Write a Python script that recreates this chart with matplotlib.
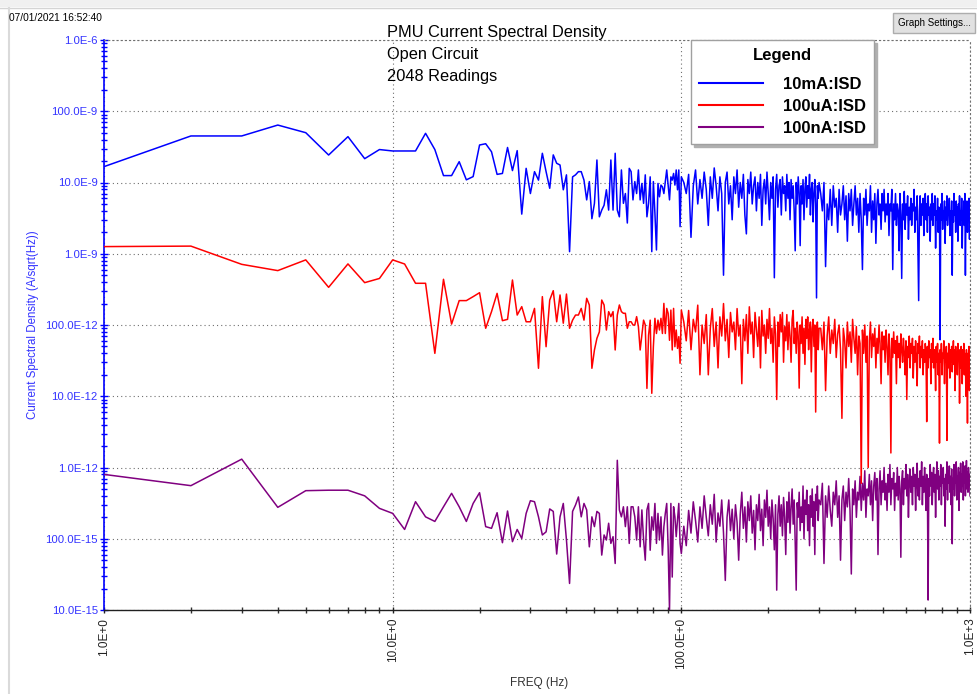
import numpy as np
import matplotlib
matplotlib.use('Agg')
import matplotlib.pyplot as plt
from matplotlib.ticker import FixedLocator, FixedFormatter, LogLocator, NullFormatter
from matplotlib.patches import Rectangle
from matplotlib.lines import Line2D

plt.rcParams['font.family'] = ['Liberation Sans', 'DejaVu Sans']
plt.rcParams['lines.scale_dashes'] = False

# ---------------- data ----------------
# frequency bins (Hz): every bin up to 100 Hz, thinned above
freq_hz = np.array(list(range(1, 101)) + list(range(102, 301, 2)) + list(range(304, 1001, 4)), dtype=float)

# 10mA range current spectral density, nA/sqrt(Hz)
isd_10mA_nA = [
    16.7, 45, 45, 64, 50, 24.3, 44, 21.6, 29, 27.7,
    27.7, 27.7, 49, 29, 12.5, 12.5, 19.6, 10.9, 12.1, 33.6,
    35, 27, 13, 13.4, 31, 14.7, 28, 3.6, 15.8, 7,
    14.2, 10.8, 25.7, 14.2, 8.3, 24.4, 18.6, 17.6, 7.9, 12.8,
    1.07, 12, 12.8, 14.2, 14.2, 10.8, 5.7, 10.3, 3.1, 5.1,
    20.7, 3.3, 4.1, 4.8, 7.9, 4.1, 20.7, 4.1, 25.7, 4.1,
    3.3, 15, 5.1, 7, 2.7, 15.8, 14.2, 5.7, 10.3, 7,
    15, 5.7, 9.7, 5.1, 12.8, 3.3, 5.1, 12, 1.07, 10.3,
    3.7, 1.13, 9.7, 6.3, 9.2, 8.7, 7, 10.3, 15, 9.2,
    5.7, 12, 10.8, 13.4, 9.2, 15, 7.9, 15, 2.4, 12,
    # 102..300 Hz
    10, 7, 13, 1.7, 9, 15, 5, 11, 6, 14,
    8, 2.5, 12, 6, 16, 9, 4, 12, 7, 0.5,
    10, 14, 5, 9, 3, 12, 7, 15, 4.5, 10,
    6, 13, 3.5, 1.9, 11, 7, 14, 5, 9, 12,
    4, 10, 6, 13, 2.5, 8, 11, 5, 14, 7,
    3, 10, 6, 12, 0.46, 8, 13, 4.5, 9, 11,
    3.5, 12, 7, 9, 4, 13, 6, 10, 3, 11,
    6, 9, 4, 1.1, 10, 5, 12, 7, 1.3, 9,
    5, 11, 3, 8, 12, 4.5, 9, 6, 13, 3.5,
    8, 10, 2.8, 7, 11, 5, 0.24, 9, 6, 10,
    # 304..1000 Hz
    7, 4, 10, 0.66, 5, 3, 8, 2.5, 9, 4.5,
    6, 2, 8, 3.5, 5, 9, 3, 6.5, 1.5, 7,
    4, 8, 2.5, 5, 9, 3.5, 6, 2, 7, 3,
    0.6, 6, 3.5, 8, 2.5, 5, 4, 9, 2, 5.5,
    3, 7, 1.4, 5, 8, 3.5, 5, 2.2, 7, 4,
    8, 2.8, 5, 3.5, 7, 1.8, 5, 4, 8, 0.6,
    5, 3, 7, 2.5, 5, 4, 1.1, 7, 3.5, 0.45,
    5, 3, 7.5, 2.2, 5, 3.5, 6.5, 1.6, 4.5, 3,
    6, 2.5, 5, 4, 8, 2, 4.5, 3, 6.5, 1.3,
    0.22, 4, 6.5, 2.5, 5, 3.5, 6, 1.8, 4, 7,
    3, 5, 2, 6.5, 3.5, 4.5, 1.5, 5, 3, 7,
    2.5, 5, 3.5, 6.5, 1.2, 4, 3, 6, 2, 4.5,
    3.5, 0.062, 5, 3, 7, 2.2, 4, 3.5, 5.5, 1.4,
    4.5, 3, 6.5, 2.5, 4, 3.5, 6, 1.8, 4, 3,
    5.5, 0.5, 4, 2.8, 7, 3.5, 4.5, 2, 5.5, 3,
    4.5, 1.5, 5, 3.5, 6.5, 2.5, 4, 3, 6, 1.2,
    4, 3, 5.5, 2.5, 7, 0.5, 4, 3, 5.5, 2,
    4.5, 3, 6, 1.6, 4,
]

# 100uA range, pA/sqrt(Hz)
isd_100uA_pA = [
    1260, 1280, 710, 580, 820, 338, 720, 393, 450, 820,
    718, 385, 385, 40, 438, 103, 220, 220, 250, 284,
    90, 154, 278, 115, 120, 428, 138, 181, 111, 111,
    171, 24.7, 250, 49.6, 224, 303, 111, 264, 106, 272,
    90, 117, 138, 138, 171, 117, 237, 191, 24.7, 44.6,
    65, 80, 224, 191, 85, 154, 131, 154, 44.6, 138,
    191, 154, 146, 146, 90, 111, 111, 100, 100, 131,
    95, 44.6, 72, 117, 100, 12.9, 72, 117, 11, 49.6,
    124, 76, 117, 85, 124, 76, 201, 76, 171, 146,
    61, 162, 44.6, 171, 49.6, 85, 47, 68.6, 29, 162,
    # 102..300 Hz
    110, 60, 160, 45, 120, 80, 190, 20, 100, 55,
    140, 20, 90, 170, 50, 110, 25, 130, 70, 200,
    60, 120, 35, 150, 80, 110, 45, 170, 70, 100,
    15, 120, 60, 140, 40, 180, 75, 110, 35, 150,
    85, 50, 130, 25, 160, 70, 100, 40, 120, 65,
    170, 55, 90, 30, 130, 75, 9, 110, 50, 140,
    80, 150, 30, 95, 60, 140, 45, 110, 70, 30,
    120, 160, 55, 90, 40, 110, 70, 13, 100, 55,
    130, 40, 90, 28, 120, 65, 130, 45, 85, 110,
    22, 90, 120, 50, 100, 6, 80, 110, 45, 90,
    # 304..1000 Hz
    90, 45, 110, 12, 70, 130, 40, 85, 55, 120,
    35, 75, 100, 45, 4.9, 90, 60, 25, 110, 50,
    80, 30, 120, 65, 40, 95, 20, 70, 55, 0.6,
    85, 40, 100, 30, 70, 1, 60, 110, 35, 75,
    50, 90, 25, 65, 40, 100, 55, 15, 80, 45,
    70, 30, 85, 50, 20, 75, 45, 1.6, 65, 35,
    80, 40, 60, 15, 70, 35, 55, 25, 75, 45,
    30, 65, 40, 20, 60, 9, 50, 35, 70, 25,
    55, 40, 65, 18, 50, 30, 60, 35, 14, 55,
    40, 70, 25, 50, 35, 60, 20, 45, 30, 55,
    40, 4.4, 50, 25, 60, 35, 45, 15, 55, 30,
    65, 25, 45, 35, 12, 50, 30, 55, 20, 40,
    2.2, 45, 30, 55, 20, 40, 35, 60, 15, 45,
    30, 50, 2.4, 40, 25, 55, 35, 18, 45, 30,
    50, 22, 40, 60, 28, 45, 12, 50, 30, 40,
    20, 55, 35, 45, 8, 40, 25, 50, 30, 15,
    45, 28, 55, 20, 40, 32, 10, 45, 25, 4.2,
    40, 20, 50, 12, 30,
]

# 100nA range, fA/sqrt(Hz)
isd_100nA_fA = [
    800, 556, 1310, 276, 473, 480, 480, 400, 267, 227,
    135, 331, 203, 175, 281, 434, 281, 175, 313, 443,
    148, 140, 232, 88, 245, 91, 135, 101, 227, 342,
    331, 203, 113, 125, 262, 242, 61, 203, 313, 96,
    23.6, 242, 298, 386, 203, 313, 254, 77, 203, 148,
    242, 227, 59, 113, 96, 165, 86, 107, 45, 1262,
    254, 203, 281, 148, 281, 86, 281, 281, 203, 96,
    281, 77, 254, 96, 50, 254, 313, 69, 203, 132,
    313, 86, 227, 96, 203, 59, 148, 227, 313, 77,
    10, 313, 29, 281, 203, 107, 183, 313, 86, 62,
    # 102..300 Hz
    150, 80, 250, 120, 330, 180, 90, 280, 140, 400,
    200, 110, 300, 160, 420, 90, 230, 150, 350, 120,
    26, 200, 350, 130, 260, 100, 300, 170, 50, 220,
    450, 140, 280, 90, 330, 180, 400, 120, 250, 70,
    300, 180, 420, 130, 260, 80, 350, 200, 480, 150,
    280, 100, 350, 190, 70, 300, 19, 220, 400, 150,
    300, 110, 380, 200, 60, 330, 170, 450, 120, 280,
    500, 160, 350, 90, 19, 320, 200, 450, 130, 280,
    170, 550, 100, 350, 220, 480, 130, 300, 80, 400,
    200, 500, 150, 330, 60, 420, 250, 550, 180, 350,
    # 304..1000 Hz
    300, 600, 45, 400, 200, 550, 250, 150, 450, 300,
    650, 200, 400, 50, 350, 550, 180, 450, 280, 700,
    250, 32, 500, 300, 650, 200, 450, 350, 750, 250,
    600, 350, 900, 200, 500, 400, 800, 300, 650, 180,
    550, 850, 350, 700, 60, 500, 900, 300, 650, 450,
    1000, 350, 600, 250, 800, 450, 1100, 300, 700, 500,
    850, 250, 600, 400, 1000, 350, 750, 500, 55, 650,
    900, 300, 700, 500, 1100, 400, 800, 200, 600, 950,
    450, 750, 300, 1000, 550, 800, 250, 650, 1150, 400,
    700, 350, 900, 550, 1200, 300, 750, 450, 1000, 600,
    250, 800, 500, 13.8, 700, 400, 1100, 550, 850, 300,
    700, 1000, 450, 800, 200, 650, 1200, 500, 900, 350,
    750, 550, 1100, 300, 850, 600, 1000, 400, 700, 150,
    800, 500, 1200, 350, 900, 600, 1050, 450, 750, 300,
    950, 85, 700, 500, 1100, 400, 800, 600, 1200, 350,
    750, 500, 1000, 250, 850, 650, 1150, 450, 800, 550,
    1200, 350, 900, 600, 1050, 400, 750, 1250, 500, 850,
    450, 1000, 600, 800, 400,
]

series_labels = ['10mA:ISD', '100uA:ISD', '100nA:ISD']
series_colors = ['#0000ff', '#ff0000', '#800080']

y_tick_values = [1e-6, 1e-7, 1e-8, 1e-9, 1e-10, 1e-11, 1e-12, 1e-13, 1e-14]
y_tick_labels = ['1.0E-6', '100.0E-9', '10.0E-9', '1.0E-9', '100.0E-12',
                 '10.0E-12', '1.0E-12', '100.0E-15', '10.0E-15']
x_tick_values = [1, 10, 100, 1000]
x_tick_labels = ['1.0E+0', '10.0E+0', '100.0E+0', '1.0E+3']

title_lines = ['PMU Current Spectral Density', 'Open Circuit', '2048 Readings']

# ---------------- figure ----------------
W, H = 977, 694
fig = plt.figure(figsize=(W / 100, H / 100), dpi=100)
fig.patch.set_facecolor('white')

def fx(px):
    return px / W

def fy(py):
    return 1 - py / H

# window chrome
fig.add_artist(Rectangle((0, fy(7)), 1, 7 / H, transform=fig.transFigure,
                         facecolor='#f0f0f0', edgecolor='none'))
fig.add_artist(Line2D([0, 1], [fy(7.5), fy(7.5)], transform=fig.transFigure,
                      color='#d4d4d4', lw=1))
fig.add_artist(Line2D([fx(9), fx(9)], [fy(8), 0], transform=fig.transFigure,
                      color='#dadada', lw=1.5))

ax = fig.add_axes([fx(104), fy(610), (970 - 104) / W, (610 - 40) / H])
ax.set_xscale('log')
ax.set_yscale('log')
ax.set_xlim(1, 1000)
ax.set_ylim(1e-14, 1e-6)

y_blue = np.array(isd_10mA_nA) * 1e-9
y_red = np.array(isd_100uA_pA) * 1e-12
y_purple = np.array(isd_100nA_fA) * 1e-15

lw = 1.1
l3, = ax.plot(freq_hz, y_purple, color=series_colors[2], lw=lw, zorder=3)
l2, = ax.plot(freq_hz, y_red, color=series_colors[1], lw=lw, zorder=4)
l1, = ax.plot(freq_hz, y_blue, color=series_colors[0], lw=lw, zorder=5)

# grid
dot = (0, (0.8, 2.2))
ax.grid(True, which='major', color='#707070', linestyle=dot, linewidth=0.8)
ax.grid(False, which='minor')
for s in ['top', 'right']:
    ax.spines[s].set_linestyle(dot)
    ax.spines[s].set_color('#707070')
    ax.spines[s].set_linewidth(0.8)
ax.spines['left'].set_color('#0000ff')
ax.spines['left'].set_linewidth(1.2)
ax.spines['bottom'].set_color('#202020')
ax.spines['bottom'].set_linewidth(1.0)

ax.yaxis.set_major_locator(FixedLocator(y_tick_values))
ax.yaxis.set_major_formatter(FixedFormatter(y_tick_labels))
ax.yaxis.set_minor_locator(LogLocator(base=10, subs=np.arange(2, 10), numticks=20))
ax.yaxis.set_minor_formatter(NullFormatter())
ax.xaxis.set_major_locator(FixedLocator(x_tick_values))
ax.xaxis.set_major_formatter(FixedFormatter(x_tick_labels))
ax.xaxis.set_minor_locator(LogLocator(base=10, subs=np.arange(2, 10), numticks=20))
ax.xaxis.set_minor_formatter(NullFormatter())

ax.tick_params(axis='y', which='major', direction='inout', length=6, width=1,
               color='#0000ff', labelcolor='#3333ff', labelsize=8.2, pad=1.5)
ax.tick_params(axis='y', which='minor', direction='inout', length=4, width=1,
               color='#0000ff')
ax.tick_params(axis='x', which='major', direction='inout', length=5, width=1,
               color='#202020', labelcolor='#222222', labelsize=8.5, pad=3,
               labelrotation=90)
ax.tick_params(axis='x', which='minor', direction='inout', length=4, width=1,
               color='#303030')

# axis labels
fig.text(fx(539), fy(683), 'FREQ (Hz)', ha='center', va='center',
         fontsize=8.5, color='#333333')
fig.text(fx(33), fy(325), 'Current Spectral Density (A/sqrt(Hz))', ha='center',
         va='center', rotation=90, fontsize=8.3, color='#3333ff')

# title block
for i, t in enumerate(title_lines):
    fig.text(fx(387), fy(33 + 21.5 * i), t, ha='left', va='center',
             fontsize=11.8, color='black')

# timestamp
fig.text(fx(9), fy(18), '07/01/2021 16:52:40', ha='left', va='center',
         fontsize=7.3, color='black')

# Graph settings button
fig.add_artist(Rectangle((fx(893), fy(33)), 82 / W, 20 / H, transform=fig.transFigure,
                         facecolor='#e1e1e1', edgecolor='#adadad', lw=1))
fig.text(fx(934), fy(23), 'Graph Settings...', ha='center', va='center',
         fontsize=7, color='black')

# legend
leg = ax.legend([l1, l2, l3], series_labels, title='Legend', loc='upper left',
                bbox_to_anchor=(fx(691), fy(40)), bbox_transform=fig.transFigure,
                prop={'weight': 'bold', 'size': 12},
                title_fontproperties={'weight': 'bold', 'size': 12},
                frameon=True, fancybox=False, shadow={'color': '#b0b0b0', 'alpha': 1},
                edgecolor='#a0a0a0', facecolor='white', framealpha=1,
                borderpad=0.5, handlelength=3.8, handletextpad=1.2,
                labelspacing=0.42, borderaxespad=0)
leg._legend_box.sep = 9.5
leg.get_frame().set_linewidth(1.0)
for h in leg.legend_handles:
    h.set_linewidth(1.5)
leg.set_zorder(10)

fig.savefig('out.png', dpi=100)
